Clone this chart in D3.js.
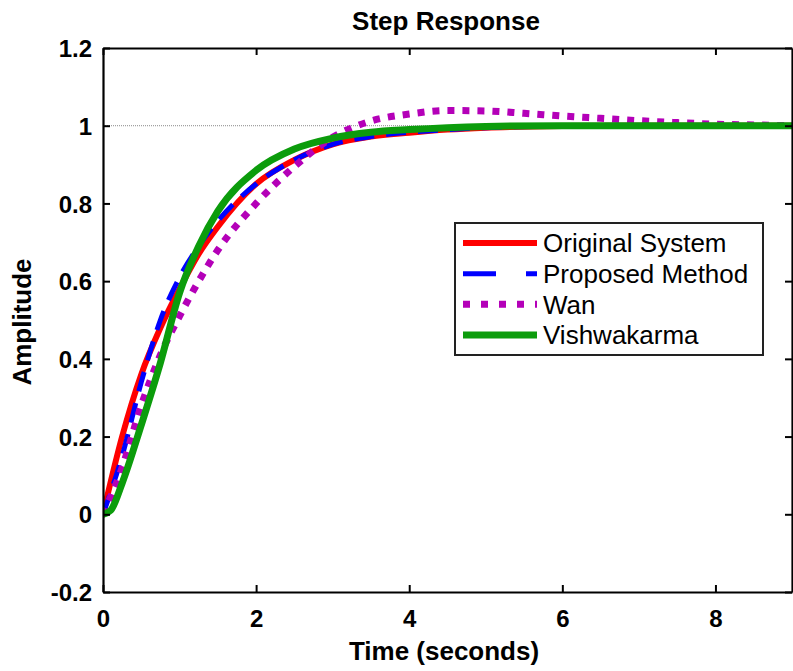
<!DOCTYPE html>
<html>
<head>
<meta charset="utf-8">
<script src="https://cdn.jsdelivr.net/npm/d3@7"></script>
<style>
  html, body { margin: 0; padding: 0; background: #fff; }
  svg { display: block; }
  text { font-family: "Liberation Sans", Arial, sans-serif; }
</style>
</head>
<body>
<svg id="chart" width="793" height="671"></svg>
<script>
// Step response samples (time in seconds, amplitude)
const timeOriginal = [0, 0.25, 0.5, 0.75, 1, 1.25, 1.5, 2, 2.5, 3, 3.5, 4, 4.5, 5, 6, 7, 8, 9];
const originalSystem = [0, 0.2, 0.36, 0.48, 0.58, 0.67, 0.74, 0.85, 0.912, 0.952, 0.972, 0.982, 0.99, 0.995, 0.999, 1, 1, 1];

const timeProposed = [0, 0.25, 0.5, 0.75, 1, 1.25, 1.5, 2, 2.5, 3, 3.5, 4, 4.5, 5, 6, 7, 8, 9];
const proposedMethod = [0, 0.15, 0.34, 0.5, 0.61, 0.69, 0.755, 0.85, 0.912, 0.952, 0.972, 0.983, 0.99, 0.995, 0.999, 1, 1, 1];

const timeWan = [0, 0.25, 0.5, 0.75, 1, 1.25, 1.5, 2, 2.5, 3, 3.5, 4, 4.5, 5, 5.5, 6, 6.5, 7, 7.5, 8, 8.5, 9];
const wan = [0, 0.12, 0.28, 0.41, 0.51, 0.6, 0.68, 0.8, 0.895, 0.97, 1.012, 1.03, 1.039, 1.038, 1.032, 1.025, 1.019, 1.013, 1.008, 1.004, 1.002, 1.0];

const timeVish = [0, 0.1, 0.25, 0.5, 0.75, 1, 1.25, 1.5, 2, 2.5, 3, 3.5, 4, 4.5, 5, 6, 7, 8, 9];
const vishwakarma = [0, 0.01, 0.08, 0.23, 0.39, 0.57, 0.69, 0.78, 0.885, 0.94, 0.968, 0.983, 0.99, 0.995, 0.998, 1, 1, 1, 1];

const xTicks = [0, 2, 4, 6, 8];
const yTicks = [-0.2, 0, 0.2, 0.4, 0.6, 0.8, 1, 1.2];
const yTickLabels = ["-0.2", "0", "0.2", "0.4", "0.6", "0.8", "1", "1.2"];
const legendNames = ["Original System", "Proposed Method", "Wan", "Vishwakarma"];

const series = [
  { name: legendNames[0], t: timeOriginal, v: originalSystem, color: "#ff0000", width: 6, dash: null, legendDash: null },
  { name: legendNames[1], t: timeProposed, v: proposedMethod, color: "#0000ff", width: 5, dash: "20,12", legendDash: "33,30" },
  { name: legendNames[2], t: timeWan, v: wan, color: "#b400b8", width: 7, dash: "7,8", legendDash: "7,11" },
  { name: legendNames[3], t: timeVish, v: vishwakarma, color: "#0c9c0c", width: 7, dash: null, legendDash: null }
];

const svg = d3.select("#chart");
const plotLeft = 103, plotRight = 792, plotTop = 48, plotBottom = 592;

const x = d3.scaleLinear().domain([0, 9]).range([plotLeft, plotRight]);
const y = d3.scaleLinear().domain([-0.2, 1.2]).range([plotBottom, plotTop]);

svg.append("defs").append("clipPath").attr("id", "plotClip")
  .append("rect").attr("x", plotLeft).attr("y", plotTop)
  .attr("width", plotRight - plotLeft).attr("height", plotBottom - plotTop);

// steady-state reference line
svg.append("line")
  .attr("x1", plotLeft).attr("x2", plotRight)
  .attr("y1", y(1)).attr("y2", y(1))
  .attr("stroke", "#8a8a8a").attr("stroke-width", 1).attr("stroke-dasharray", "1,1");

// response curves
const line = d3.line().curve(d3.curveMonotoneX);
const curves = svg.append("g").attr("clip-path", "url(#plotClip)");
series.forEach(s => {
  const pts = s.t.map((t, i) => [x(t), y(s.v[i])]);
  curves.append("path")
    .attr("d", line(pts))
    .attr("fill", "none")
    .attr("stroke", s.color)
    .attr("stroke-width", s.width)
    .attr("stroke-dasharray", s.dash)
    .attr("stroke-linejoin", "round");
});

// axes (box with inward ticks)
const tickLen = 7;
const axisFont = "bold 24px 'Liberation Sans', Arial, sans-serif";

const xAxisB = d3.axisBottom(x).tickValues(xTicks).tickSizeInner(-tickLen).tickSizeOuter(0).tickPadding(18).tickFormat(d3.format("d"));
const xAxisT = d3.axisTop(x).tickValues(xTicks).tickSizeInner(-tickLen).tickSizeOuter(0).tickFormat("");
const yAxisL = d3.axisLeft(y).tickValues(yTicks).tickSizeInner(-tickLen).tickSizeOuter(0).tickPadding(11)
  .tickFormat((d, i) => yTickLabels[i]);
const yAxisR = d3.axisRight(y).tickValues(yTicks).tickSizeInner(-tickLen).tickSizeOuter(0).tickFormat("");

const gxB = svg.append("g").attr("transform", `translate(0,${plotBottom})`).call(xAxisB);
const gxT = svg.append("g").attr("transform", `translate(0,${plotTop})`).call(xAxisT);
const gyL = svg.append("g").attr("transform", `translate(${plotLeft},0)`).call(yAxisL);
const gyR = svg.append("g").attr("transform", `translate(${plotRight},0)`).call(yAxisR);

[gxB, gxT, gyL, gyR].forEach(g => {
  g.select(".domain").attr("stroke", "#000").attr("stroke-width", 2.2);
  g.selectAll(".tick line").attr("stroke", "#000").attr("stroke-width", 2);
  g.selectAll(".tick text").attr("fill", "#000").style("font", axisFont);
});
gyL.selectAll(".tick text").attr("dy", "0.36em");

// title and axis labels
svg.append("text").attr("x", 446).attr("y", 30).attr("text-anchor", "middle")
  .style("font", "bold 26px 'Liberation Sans', Arial, sans-serif").text("Step Response");
svg.append("text").attr("x", 444).attr("y", 660).attr("text-anchor", "middle")
  .style("font", "bold 26px 'Liberation Sans', Arial, sans-serif").text("Time (seconds)");
svg.append("text").attr("transform", "translate(31,322) rotate(-90)").attr("text-anchor", "middle")
  .style("font", "bold 26px 'Liberation Sans', Arial, sans-serif").text("Amplitude");

// legend
const lg = svg.append("g");
lg.append("rect").attr("x", 455).attr("y", 223).attr("width", 308).attr("height", 132)
  .attr("fill", "#fff").attr("stroke", "#222").attr("stroke-width", 2);
const rowY = d3.scalePoint().domain(legendNames).range([243, 335]);
series.forEach(s => {
  const yy = rowY(s.name);
  lg.append("line").attr("x1", 463).attr("x2", 537).attr("y1", yy).attr("y2", yy)
    .attr("stroke", s.color).attr("stroke-width", s.width)
    .attr("stroke-dasharray", s.legendDash);
  lg.append("text").attr("x", 543).attr("y", yy).attr("dy", "0.36em")
    .style("font", "26px 'Liberation Sans', Arial, sans-serif").attr("fill", "#000").text(s.name);
});
</script>
</body>
</html>
